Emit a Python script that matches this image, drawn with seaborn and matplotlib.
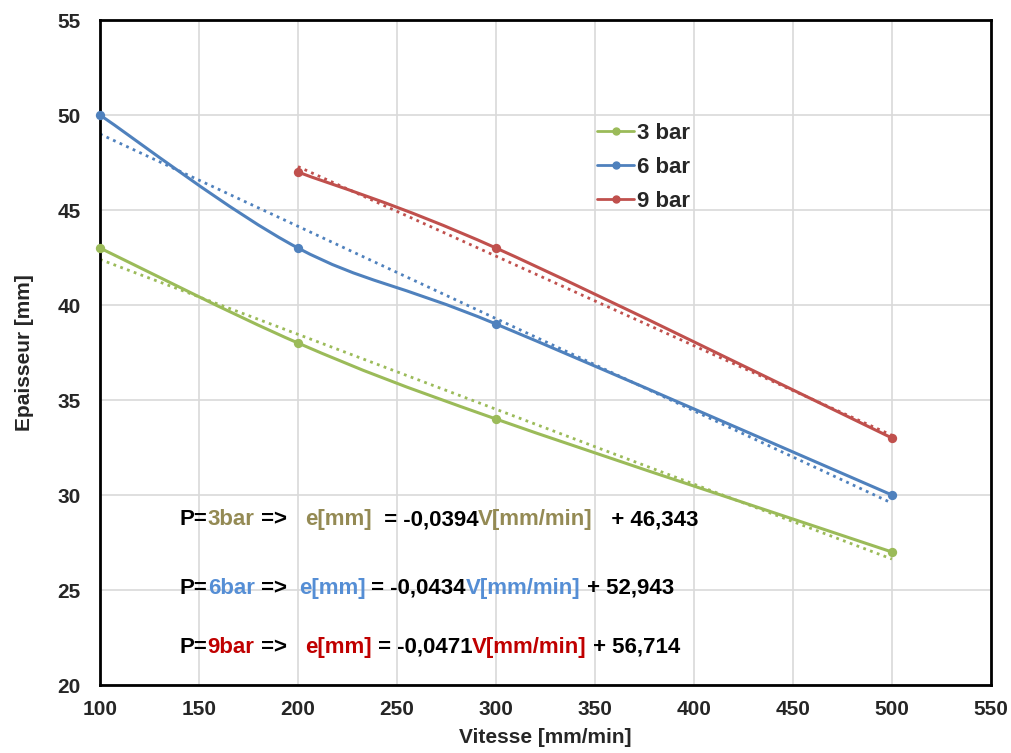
import numpy as np
import pandas as pd
import matplotlib
matplotlib.use("Agg")
import matplotlib.pyplot as plt
from matplotlib.path import Path
from matplotlib.patches import PathPatch
from matplotlib.lines import Line2D
import seaborn as sns

# data
vitesse_3 = [100, 200, 300, 500]
epais_3 = [43, 38, 34, 27]
vitesse_6 = [100, 200, 300, 500]
epais_6 = [50, 43, 39, 30]
vitesse_9 = [200, 300, 500]
epais_9 = [47, 43, 33]

series_labels = ["3 bar", "6 bar", "9 bar"]
series_colors = ["#9BBB59", "#4F81BD", "#C0504D"]

equations = [
    [("P=", "black"), ("3bar", "#948A54"), (" =>   ", "black"), ("e[mm]", "#948A54"),
     ("  = -0,0394", "black"), ("V[mm/min]", "#948A54"), ("   + 46,343", "black")],
    [("P=", "black"), ("6bar", "#558ED5"), (" =>  ", "black"), ("e[mm]", "#558ED5"),
     (" = -0,0434", "black"), ("V[mm/min]", "#558ED5"), (" + 52,943", "black")],
    [("P=", "black"), ("9bar", "#C00000"), (" =>   ", "black"), ("e[mm]", "#C00000"),
     (" = -0,0471", "black"), ("V[mm/min]", "#C00000"), (" + 56,714", "black")],
]
eq_y = [28.7, 25.1, 22.0]


def smooth_path(xs, ys):
    # Excel-style smoothed line as cubic bezier segments (catmull-rom control points)
    pts = np.column_stack([xs, ys]).astype(float)
    verts = [pts[0]]
    codes = [Path.MOVETO]
    n = len(pts)
    for i in range(n - 1):
        p0 = pts[i - 1] if i > 0 else pts[i]
        p1 = pts[i]
        p2 = pts[i + 1]
        p3 = pts[i + 2] if i + 2 < n else pts[i + 1]
        c1 = p1 + (p2 - p0) / 6.0
        c2 = p2 - (p3 - p1) / 6.0
        verts += [c1, c2, p2]
        codes += [Path.CURVE4] * 3
    return Path(verts, codes)


sns.set_style("white")
plt.rcParams["font.family"] = ["Liberation Sans", "DejaVu Sans"]
plt.rcParams["font.weight"] = "bold"

fig = plt.figure(figsize=(10.11, 7.53), dpi=100)
ax = fig.add_axes([0.0989, 0.0903, 0.8813, 0.8831])

groups = [(vitesse_3, epais_3), (vitesse_6, epais_6), (vitesse_9, epais_9)]
for (xs, ys), lab, col in zip(groups, series_labels, series_colors):
    df = pd.DataFrame({"v": xs, "e": ys})
    sns.regplot(data=df, x="v", y="e", scatter=False, ci=None, ax=ax,
                line_kws=dict(color=col, lw=2, linestyle=(0, (1, 1.6))))
    ax.add_patch(PathPatch(smooth_path(xs, ys), facecolor="none", edgecolor=col,
                           lw=2.2, zorder=3, capstyle="round"))
    sns.scatterplot(data=df, x="v", y="e", color=col, s=45, edgecolor=col,
                    linewidth=0, ax=ax, zorder=4, clip_on=False)

ax.set_xlim(100, 550)
ax.set_ylim(20, 55)
ax.set_xticks(np.arange(100, 551, 50))
ax.set_yticks(np.arange(20, 56, 5))
ax.grid(True, color="#D9D9D9", lw=1.2)
ax.set_axisbelow(True)
for sp in ax.spines.values():
    sp.set_color("black")
    sp.set_linewidth(2)
ax.tick_params(axis="x", length=0, labelsize=15, pad=11)
ax.tick_params(axis="y", length=0, labelsize=15, pad=14)
for t in ax.get_xticklabels() + ax.get_yticklabels():
    t.set_fontweight("bold")
ax.set_xlabel("Vitesse [mm/min]", fontsize=15, fontweight="bold", labelpad=6)
ax.set_ylabel("Epaisseur [mm]", fontsize=15, fontweight="bold", labelpad=17)

handles = [Line2D([0], [0], color=c, lw=2, marker="o", markersize=5) for c in series_colors]
ax.legend(handles, series_labels, loc="upper left", bbox_to_anchor=(0.535, 0.875),
          frameon=False, prop=dict(size=16, weight="bold"), labelspacing=0.58,
          handlelength=1.7, handletextpad=0.1)

for segs, yv in zip(equations, eq_y):
    prev = None
    for txt, col in segs:
        if prev is None:
            prev = ax.text(140.4, yv, txt, color=col, fontsize=16, fontweight="bold",
                           va="center", ha="left")
        else:
            prev = ax.annotate(txt, xy=(1, 0), xycoords=prev, va="bottom", ha="left",
                               color=col, fontsize=16, fontweight="bold")

fig.savefig("out.png", dpi=100)
